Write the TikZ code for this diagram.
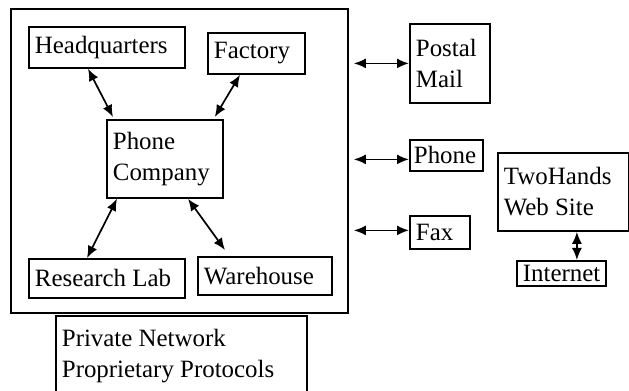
\documentclass[tikz,border=0pt]{standalone}
\usepackage{fontspec}
\setmainfont{Liberation Serif}
\usetikzlibrary{arrows.meta,calc}
\begin{document}
\begin{tikzpicture}[x=0.5bp, y=-0.5bp,
  box/.style 2 args={draw, line width=0.9bp, anchor=north west, inner xsep=3bp, inner ysep=1bp,
    text width=#1, minimum height=#2, align=left, font=\fontsize{12.5}{15.5}\selectfont,
    execute at begin node={\spaceskip=0pt\xspaceskip=0pt}},
  link/.style={{Latex[length=6bp,width=5bp]}-{Latex[length=6bp,width=5bp]}, line width=0.85bp}]
  \clip (0,0) rectangle (629,391);
  % the private network and what is inside it
  \node[draw, line width=0.9bp, anchor=north west, minimum width=168.5bp, minimum height=152bp] (net) at (10,8) {};
  \node[box={72bp}{20.5bp}] (hq) at (28,26) {Headquarters};
  \node[box={42.5bp}{20.5bp}] (factory) at (207,32) {Factory};
  \node[box={52bp}{39bp}] (phoneco) at (106,119) {Phone\\Company};
  \node[box={72bp}{19.5bp}] (lab) at (28,258) {Research Lab};
  \node[box={61bp}{19bp}] (warehouse) at (197,256) {Warehouse};
  \node[box={119.5bp}{40bp}] (private) at (55,315) {Private Network\\Proprietary Protocols};
  % the outside channels
  \node[box={34bp}{39.5bp}] (postal) at (409,23) {Postal\\Mail};
  \node[box={32.5bp}{15.5bp}, inner xsep=2bp] (phone) at (409,139) {Phone};
  \node[box={24bp}{16.5bp}] (fax) at (409,215) {Fax};
  \node[box={59.5bp}{39bp}] (web) at (497,152) {TwoHands\\Web Site};
  \node[box={38.5bp}{12.5bp}] (internet) at (516,260) {Internet};
  % the links inside
  \draw[link] ([xshift=30bp]hq.south west) -- ([xshift=3.5bp,yshift=1bp]phoneco.north west);
  \draw[link] ([xshift=16.5bp]factory.south west) -- ([xshift=-4.5bp,yshift=1bp]phoneco.north east);
  \draw[link] ([xshift=5.5bp]phoneco.south west) -- ([xshift=29.5bp]lab.north west);
  \draw[link] ([xshift=41bp]phoneco.south west) -- ([xshift=14bp,yshift=3bp]warehouse.north west);
  % the links outside
  \draw[link] ($(net.east |- postal.west)+(2.5bp,0)$) -- (postal.west);
  \draw[link] ($(net.east |- phone.west)+(2.5bp,-2bp)$) -- ([yshift=-2bp]phone.west);
  \draw[link] ($(net.east |- fax.west)+(2.5bp,1bp)$) -- ([yshift=1bp]fax.west);
  \coordinate (drop) at ($(internet.north)+(7.75bp,0)$);
  \draw[link] (web.south -| drop) -- (drop);
\end{tikzpicture}
\end{document}
